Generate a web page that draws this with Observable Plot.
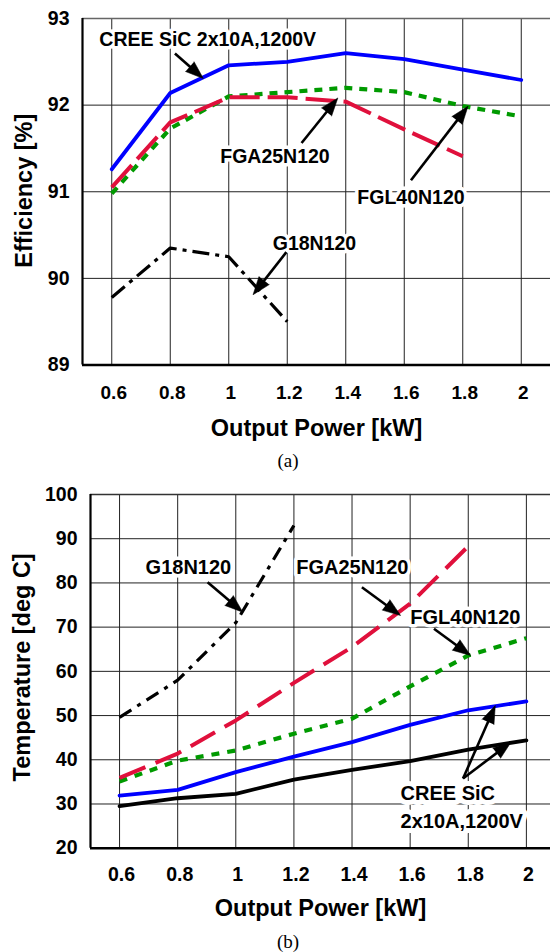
<!DOCTYPE html>
<html><head><meta charset="utf-8">
<script src="https://cdn.jsdelivr.net/npm/d3@7"></script>
<script src="https://cdn.jsdelivr.net/npm/@observablehq/plot@0.6"></script>
<style>
body{margin:0;background:#fff;width:550px;height:952px;overflow:hidden;position:relative;font-family:"Liberation Sans",Arial,sans-serif}
.pane{position:absolute;left:0}
.cap{position:absolute;left:0;width:550px;padding-left:26px;box-sizing:border-box;text-align:center;font-family:"Liberation Serif","Times New Roman",serif;font-size:19px;line-height:24px;color:#000}
</style></head><body>
<div id="a" class="pane" style="top:0"></div>
<div class="cap" style="top:449px">(a)</div>
<div id="b" class="pane" style="top:475px"></div>
<div class="cap" style="top:930px">(b)</div>
<script>
// ---------- data ----------
const powerKW = [0.6, 0.8, 1.0, 1.2, 1.4, 1.6, 1.8, 2.0];
const effTicks = [89, 90, 91, 92, 93];
const tempTicks = [20, 30, 40, 50, 60, 70, 80, 90, 100];

// (a) efficiency [%]
const effCree  = [91.26, 92.14, 92.46, 92.50, 92.60, 92.53, 92.41, 92.29];
const effFGA25 = [91.05, 91.80, 92.09, 92.09, 92.04, 91.72, 91.41];
const effFGL40 = [90.98, 91.73, 92.10, 92.15, 92.20, 92.15, 91.99, 91.87];
const effG18   = [89.78, 90.35, 90.25, 89.50];

// (b) temperature [deg C]
const tempG18       = [49.6, 58.0, 71.0, 93.0];
const tempFGA25     = [35.9, 41.4, 48.9, 57.4, 65.5, 75.3, 88.3];
const tempFGL40     = [35.1, 39.8, 42.1, 45.9, 49.3, 56.6, 63.6, 67.5];
const tempCreeBlue  = [31.9, 33.2, 37.2, 40.7, 44.0, 47.9, 51.2, 53.2];
const tempCreeBlack = [29.5, 31.3, 32.3, 35.5, 37.7, 39.7, 42.3, 44.4];

// annotations (a)
const labelTextA = ["CREE SiC 2x10A,1200V", "FGA25N120", "FGL40N120", "G18N120"];
const labelXA = [0.928, 1.158, 1.623, 1.293];
const labelYA = [92.76, 91.40, 90.935, 90.40];
const arrowX1A = [0.816, 1.249, 1.623, 1.197];
const arrowY1A = [92.596, 91.563, 91.132, 90.303];
const arrowX2A = [0.913, 1.373, 1.818, 1.083];
const arrowY2A = [92.307, 92.083, 91.987, 89.811];

// annotations (b)
const labelTextB = ["G18N120", "FGA25N120", "FGL40N120"];
const labelXB = [0.837, 1.401, 1.790];
const labelYB = [83.56, 83.42, 72.25];
const creeLabelB = "CREE SiC\n2x10A,1200V";
const creeLabelXB = 1.567, creeLabelYB = 29.77;
const arrowX1B = [0.903, 1.434, 1.682, 1.782, 1.782];
const arrowY1B = [80.16, 79.03, 69.62, 35.76, 35.76];
const arrowX2B = [1.024, 1.567, 1.808, 1.893, 1.947];
const arrowY2B = [73.38, 72.63, 63.58, 52.27, 43.97];

// ---------- helpers ----------
const series = (ys) => ys.map((v, i) => ({x: powerKW[i], y: v}));
const labels = (t, xs, ys) => t.map((s, i) => ({text: s, x: xs[i], y: ys[i]}));

function arrowMarks(x1s, y1s, x2s, y2s, xs, ys) {
  const rows = x1s.map((_, i) => {
    const px1 = xs(x1s[i]), py1 = ys(y1s[i]), px2 = xs(x2s[i]), py2 = ys(y2s[i]);
    const dx = px2 - px1, dy = py2 - py1, len = Math.hypot(dx, dy), back = 9;
    return {
      x1: x1s[i], y1: y1s[i], x2: x2s[i], y2: y2s[i],
      sx: xs.invert(px2 - dx / len * back), sy: ys.invert(py2 - dy / len * back),
      angle: Math.atan2(dx, -dy) * 180 / Math.PI
    };
  });
  return [
    Plot.link(rows, {x1: "x1", y1: "y1", x2: "sx", y2: "sy", stroke: "black", strokeWidth: 2.6}),
    Plot.vector(rows, {x: "x2", y: "y2", rotate: "angle", length: 18, r: 6.5, shape: "spike", anchor: "end", fill: "black", stroke: "black", strokeWidth: 0.5})
  ];
}

const fontStack = "'Liberation Sans', Arial, sans-serif";
const W = 550;
const fmt = d => String(d);

// ---------- chart (a) ----------
{
  const xDom = [0.5, 2.1], yDom = [89, 93];
  const mL = 82, mR = 0, mT = 18, mB = 82.5, H = 447;
  const xs = d3.scaleLinear(xDom, [mL, W - mR]);
  const ys = d3.scaleLinear(yDom, [H - mB, mT]);
  const chart = Plot.plot({
    width: W, height: H, marginLeft: mL, marginRight: mR, marginTop: mT, marginBottom: mB,
    style: {fontFamily: fontStack, fontWeight: "bold", color: "black", background: "white", overflow: "visible"},
    x: {domain: xDom}, y: {domain: yDom},
    marks: [
      Plot.ruleX(powerKW, {stroke: "#222", strokeWidth: 1}),
      Plot.ruleY(effTicks.slice(1, -1), {stroke: "#222", strokeWidth: 1}),
      Plot.ruleY([yDom[1]], {stroke: "#666", strokeWidth: 1.6}),
      Plot.ruleX([xDom[0]], {stroke: "black", strokeWidth: 2.2}),
      Plot.ruleY([yDom[0]], {stroke: "black", strokeWidth: 2.6}),
      Plot.axisX(powerKW, {tickSize: 0, tickPadding: 20, fontSize: 19, fontWeight: "bold", label: null, dx: 2, tickFormat: fmt}),
      Plot.axisY(effTicks, {tickSize: 0, tickPadding: 13, fontSize: 19.5, fontWeight: "bold", label: null, tickFormat: fmt}),
      Plot.text(["Output Power [kW]"], {frameAnchor: "bottom", lineAnchor: "middle", dy: 63, fontSize: 23.5, fontWeight: "bold"}),
      Plot.text(["Efficiency [%]"], {frameAnchor: "left", textAnchor: "middle", lineAnchor: "middle", dx: -58, dy: -1, rotate: -90, fontSize: 23.5, fontWeight: "bold"}),
      Plot.line(series(effG18), {x: "x", y: "y", stroke: "black", strokeWidth: 3.2, strokeDasharray: "17,6,4,6", strokeLinecap: "butt"}),
      Plot.line(series(effFGL40), {x: "x", y: "y", stroke: "#009a00", strokeWidth: 4.2, strokeDasharray: "8,7", strokeLinecap: "butt"}),
      Plot.line(series(effFGA25), {x: "x", y: "y", stroke: "#e0103c", strokeWidth: 4, strokeDasharray: "30,8", strokeLinecap: "butt"}),
      Plot.line(series(effCree), {x: "x", y: "y", stroke: "#0000ff", strokeWidth: 3.8}),
      Plot.text(labels(labelTextA, labelXA, labelYA), {x: "x", y: "y", text: "text", fontSize: 19.5, fontWeight: "bold", fill: "black", stroke: "white", strokeWidth: 7}),
      ...arrowMarks(arrowX1A, arrowY1A, arrowX2A, arrowY2A, xs, ys)
    ]
  });
  document.getElementById("a").appendChild(chart);
}

// ---------- chart (b) ----------
{
  const xDom = [0.5, 2.083], yDom = [20, 100];
  const mL = 90, mR = 0, mT = 19, mB = 82.3, H = 455;
  const xs = d3.scaleLinear(xDom, [mL, W - mR]);
  const ys = d3.scaleLinear(yDom, [H - mB, mT]);
  const chart = Plot.plot({
    width: W, height: H, marginLeft: mL, marginRight: mR, marginTop: mT, marginBottom: mB,
    style: {fontFamily: fontStack, fontWeight: "bold", color: "black", background: "white", overflow: "visible"},
    x: {domain: xDom}, y: {domain: yDom},
    marks: [
      Plot.ruleX(powerKW, {stroke: "#222", strokeWidth: 1}),
      Plot.ruleY(tempTicks.slice(1, -1), {stroke: "#222", strokeWidth: 1}),
      Plot.ruleY([yDom[1]], {stroke: "#333", strokeWidth: 1.6}),
      Plot.ruleX([xDom[0]], {stroke: "black", strokeWidth: 2.2}),
      Plot.ruleY([yDom[0]], {stroke: "black", strokeWidth: 2.6}),
      Plot.axisX(powerKW, {tickSize: 0, tickPadding: 19, fontSize: 19.5, fontWeight: "bold", label: null, dx: 2, tickFormat: fmt}),
      Plot.axisY(tempTicks, {tickSize: 0, tickPadding: 13, fontSize: 19.5, fontWeight: "bold", label: null, tickFormat: fmt}),
      Plot.text(["Output Power [kW]"], {frameAnchor: "bottom", lineAnchor: "middle", dy: 60, fontSize: 23.5, fontWeight: "bold"}),
      Plot.text(["Temperature [deg C]"], {frameAnchor: "left", textAnchor: "middle", lineAnchor: "middle", dx: -68, dy: -4, rotate: -90, fontSize: 23.5, fontWeight: "bold"}),
      Plot.line(series(tempCreeBlack), {x: "x", y: "y", stroke: "black", strokeWidth: 3.8}),
      Plot.line(series(tempCreeBlue), {x: "x", y: "y", stroke: "#0000ff", strokeWidth: 3.8}),
      Plot.line(series(tempFGL40), {x: "x", y: "y", stroke: "#009a00", strokeWidth: 4.2, strokeDasharray: "8,8", strokeLinecap: "butt"}),
      Plot.line(series(tempFGA25), {x: "x", y: "y", stroke: "#e0103c", strokeWidth: 4, strokeDasharray: "28,11", strokeLinecap: "butt"}),
      Plot.line(series(tempG18), {x: "x", y: "y", stroke: "black", strokeWidth: 3.2, strokeDasharray: "14,7,4,7", strokeLinecap: "butt"}),
      Plot.text(labels(labelTextB, labelXB, labelYB), {x: "x", y: "y", text: "text", fontSize: 20, fontWeight: "bold", fill: "black", stroke: "white", strokeWidth: 7}),
      Plot.text([creeLabelB], {x: creeLabelXB, y: creeLabelYB, textAnchor: "start", lineHeight: 1.38, fontSize: 20, fontWeight: "bold", fill: "black", stroke: "white", strokeWidth: 10}),
      ...arrowMarks(arrowX1B, arrowY1B, arrowX2B, arrowY2B, xs, ys)
    ]
  });
  document.getElementById("b").appendChild(chart);
}
</script>
</body></html>
